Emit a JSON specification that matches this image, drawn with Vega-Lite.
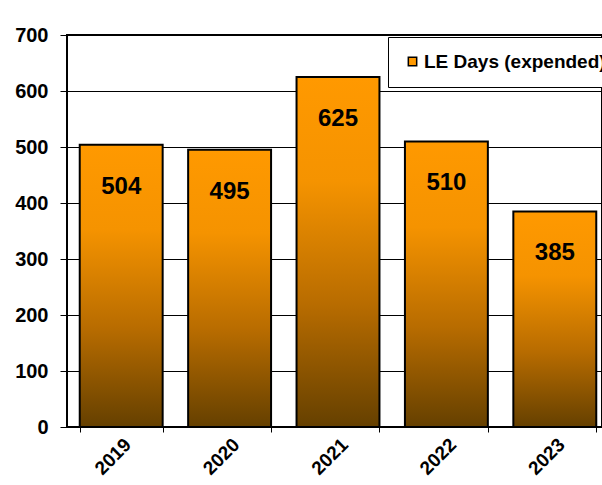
{
  "$schema": "https://vega.github.io/schema/vega-lite/v6.json",
  "autosize": {"type": "none"},
  "padding": {"left": 67, "top": 35, "right": 0, "bottom": 58},
  "width": 535,
  "height": 392,
  "background": "white",
  "config": {
    "font": "Liberation Sans",
    "view": {"stroke": "black", "strokeWidth": 2},
    "axis": {"labelFont": "Liberation Sans", "labelFontWeight": "bold", "labelColor": "black", "tickColor": "black", "domain": false, "title": null}
  },
  "data": {"values": [
    {"year": "2019", "days": 504},
    {"year": "2020", "days": 495},
    {"year": "2021", "days": 625},
    {"year": "2022", "days": 510},
    {"year": "2023", "days": 385}
  ]},
  "encoding": {
    "x": {"field": "year", "type": "nominal", "sort": null,
      "scale": {"range": [0, 542], "paddingInner": 0.235, "paddingOuter": 0.1175},
      "axis": {"labelAngle": -45, "labelFontSize": 19, "tickBand": "extent", "tickSize": 5, "labelPadding": 3, "grid": false}},
    "y": {"field": "days", "type": "quantitative",
      "scale": {"domain": [0, 700], "nice": false},
      "axis": {"values": [0, 100, 200, 300, 400, 500, 600, 700], "labelFontSize": 20, "tickSize": 7, "labelPadding": 12, "grid": true, "gridColor": "black", "gridOpacity": 1, "gridWidth": 1}}
  },
  "layer": [
    {
      "mark": {"type": "point", "filled": true, "opacity": 0, "shape": "square"},
      "encoding": {
        "color": {"datum": "LE Days (expended)", "type": "nominal",
          "scale": {"range": ["#FF9900"]},
          "legend": {"title": null, "orient": "none", "legendX": 321, "legendY": 2,
            "labelFontSize": 19, "labelFont": "Liberation Sans", "labelFontWeight": "bold", "labelColor": "black", "labelLimit": 0,
            "symbolType": "square", "symbolSize": 70, "symbolOpacity": 1, "symbolStrokeColor": "black", "symbolStrokeWidth": 1.5,
            "padding": 15, "strokeColor": "black", "fillColor": "white", "labelOffset": 2}}
      }
    },
    {
      "mark": {"type": "bar", "stroke": "black", "strokeWidth": 2,
        "fill": {"gradient": "linear", "x1": 0, "y1": 0, "x2": 0, "y2": 1,
          "stops": [
            {"offset": 0, "color": "#FF9900"},
            {"offset": 0.3, "color": "#F59300"},
            {"offset": 0.65, "color": "#B86C00"},
            {"offset": 1, "color": "#654000"}
          ]}}
    },
    {
      "mark": {"type": "text", "fontSize": 24, "fontWeight": "bold", "color": "black", "baseline": "middle", "dy": 42},
      "encoding": {"text": {"field": "days", "type": "quantitative"}}
    }
  ]
}
